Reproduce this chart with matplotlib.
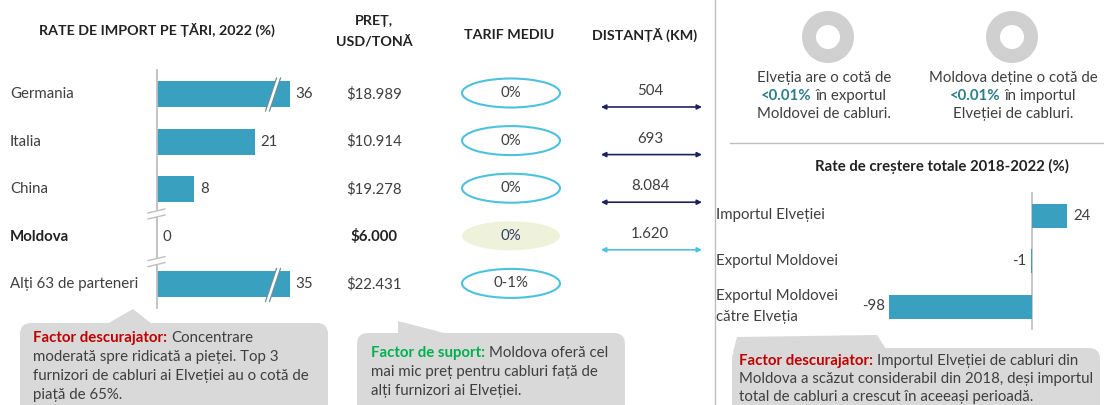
import matplotlib
matplotlib.use("Agg")
import matplotlib.pyplot as plt
import numpy as np
from matplotlib.patches import Ellipse, Wedge, FancyBboxPatch, Polygon
from matplotlib.lines import Line2D
from matplotlib.transforms import blended_transform_factory

plt.rcParams['font.family'] = ['Lato', 'DejaVu Sans']

# ---------------- data ----------------
countries = ["Germania", "Italia", "China", "Moldova", "Alți 63 de parteneri"]
import_share = [36, 21, 8, 0, 35]
prices = ["$18.989", "$10.914", "$19.278", "$6.000", "$22.431"]
tariffs = ["0%", "0%", "0%", "0%", "0-1%"]
distances = ["504", "693", "8.084", "1.620", None]

growth_labels = ["Importul Elveției", "Exportul Moldovei", "Exportul Moldovei\ncătre Elveția"]
growth_values = [24, -1, -98]

# ---------------- style ----------------
TEAL = "#3AA0BF"
TXT = "#3F3F3F"
DARK = "#222222"
GRID = "#BFBFBF"
RED = "#C00000"
GREEN = "#00B050"
BOXC = "#D9D9D9"

W, H = 1104, 405
fig = plt.figure(figsize=(W / 100, H / 100), dpi=100)
base = fig.add_axes([0, 0, 1, 1])
base.set_xlim(0, W)
base.set_ylim(H, 0)
base.axis("off")
renderer = fig.canvas.get_renderer()


def px_axes(x0, y0, x1, y1):
    return fig.add_axes([x0 / W, 1 - y1 / H, (x1 - x0) / W, (y1 - y0) / H])


def measure(text, size, weight="normal"):
    t = base.text(0, 0, text, fontsize=size, weight=weight)
    w = t.get_window_extent(renderer).width
    t.remove()
    return w


def fit(text, target, weight="normal", ref=10):
    return ref * target / measure(text, ref, weight)


FS = fit("Alți 63 de parteneri", 128)
FS_H = fit("RATE DE IMPORT PE ȚĂRI, 2022 (%)", 237, "bold")
FS_H2 = fit("Rate de creștere totale 2018-2022 (%)", 253, "bold")
FS_B = fit("furnizori de cabluri ai Elveției au o cotă de", 275)


def rich(x, y, parts, ha="left", size=None):
    size = size or FS
    sw = measure("x x", size) - measure("xx", size)
    ts, ws = [], []
    for s, kw in parts:
        t = base.text(0, y, s, fontsize=size, va="center", ha="left", **kw)
        ts.append(t)
        ws.append(t.get_window_extent(renderer).width)
    total = sum(ws) + sw * (len(ts) - 1)
    cur = x - total / 2 if ha == "center" else x
    for t, w in zip(ts, ws):
        t.set_x(cur)
        cur += w + sw


# ---------------- left bar chart ----------------
ROW0, STEP = 94, 47.6
AX_X0, PXU = 157, 4.65
AX_Y0, AX_Y1 = 70, 308
axL = px_axes(AX_X0, AX_Y0, AX_X0 + PXU * 40, AX_Y1)
axL.set_xlim(0, 40)
axL.set_ylim((AX_Y1 - ROW0) / STEP, (AX_Y0 - ROW0) / STEP)
CAP = 28.5  # broken-axis display cap
ypos = np.arange(len(countries))
shown = np.minimum(import_share, CAP)
axL.barh(ypos, shown, height=26 / STEP, color=TEAL)
for s in ["top", "right", "bottom"]:
    axL.spines[s].set_visible(False)
axL.spines["left"].set_color(GRID)
axL.spines["left"].set_linewidth(1.3)
axL.set_xticks([])
axL.set_yticks([])
axL.patch.set_visible(False)
for i, v in enumerate(import_share):
    axL.annotate(f"{v}", xy=(shown[i], i), xytext=(4, 0), textcoords="offset points",
                 va="center", ha="left", fontsize=FS, color=TXT)

transL = blended_transform_factory(base.transData, axL.transData)
for i, c in enumerate(countries):
    bold = c == "Moldova"
    base.text(10, i, c, transform=transL, va="center", ha="left", fontsize=FS,
              color=DARK if bold else TXT, weight="bold" if bold else "normal")


def row_y(i):
    return ROW0 + STEP * i


def deco_poly(ax, pts, **kw):
    p = Polygon(pts, closed=True, transform=base.transData, clip_on=False, **kw)
    ax.add_artist(p)


def deco_line(ax, xs, ys, **kw):
    ln = Line2D(xs, ys, transform=base.transData, clip_on=False, **kw)
    ax.add_artist(ln)


# bar break marks (drawn on top of the bars)
for i, v in enumerate(import_share):
    if v > CAP:
        yc = row_y(i)
        xb = AX_X0 + PXU * CAP - 20
        deco_poly(axL, [(xb - 4, yc + 17), (xb + 7, yc - 16), (xb + 11, yc - 16), (xb, yc + 17)],
                  fc="white", ec="none", zorder=5)
        deco_line(axL, [xb - 4, xb + 7], [yc + 17, yc - 16], color="#6E8E99", lw=0.9, zorder=6)
        deco_line(axL, [xb, xb + 11], [yc + 17, yc - 16], color="#6E8E99", lw=0.9, zorder=6)

# axis break marks
for yb in [(row_y(2) + row_y(3)) / 2 + 1, (row_y(3) + row_y(4)) / 2 + 1]:
    deco_poly(axL, [(148, yb - 1), (165, yb - 5), (165, yb + 1), (148, yb + 5)],
              fc="white", ec="none", zorder=5)
    deco_line(axL, [148, 165], [yb - 1, yb - 5], color=GRID, lw=1, zorder=6)
    deco_line(axL, [148, 165], [yb + 5, yb + 1], color=GRID, lw=1, zorder=6)

# headers
base.text(157, 30, "RATE DE IMPORT PE ȚĂRI, 2022 (%)", ha="center", va="center",
          fontsize=FS_H, weight="bold", color=DARK)
base.text(374, 21, "PREȚ,", ha="center", va="center", fontsize=FS_H, weight="bold", color=DARK)
base.text(374, 41, "USD/TONĂ", ha="center", va="center", fontsize=FS_H, weight="bold", color=DARK)
base.text(509, 35, "TARIF MEDIU", ha="center", va="center", fontsize=FS_H, weight="bold", color=DARK)
base.text(645, 35, "DISTANȚĂ (KM)", ha="center", va="center", fontsize=FS_H, weight="bold", color=DARK)

# price / tariff / distance columns
for i in range(len(countries)):
    y = row_y(i)
    is_md = countries[i] == "Moldova"
    base.text(374, y, prices[i], ha="center", va="center", fontsize=FS,
              weight="bold" if is_md else "normal", color=DARK if is_md else TXT)
    if is_md:
        e = Ellipse((511, y - 1), 98, 29, fc="#EEF2DA", ec="none")
    else:
        e = Ellipse((511, y - 1), 98, 29, fc="white", ec="#4DC2DE", lw=1.5)
    base.add_patch(e)
    base.text(511, y - 1, tariffs[i], ha="center", va="center", fontsize=FS,
              color="#33406B" if is_md else TXT)
    if distances[i] is not None:
        base.text(650, y - 3, distances[i], ha="center", va="center", fontsize=FS, color=TXT)
        col = "#4DC2DE" if is_md else "#1F215E"
        base.annotate("", xy=(702, y + 13), xytext=(601, y + 13),
                      arrowprops=dict(arrowstyle="<|-|>", color=col, lw=1.2,
                                      mutation_scale=7, shrinkA=0, shrinkB=0))

# ---------------- right side ----------------
base.plot([715, 715], [0, H], color=GRID, lw=1)
base.plot([730, W], [143, 143], color=GRID, lw=1)

for cx in [828, 1012]:
    base.add_patch(Wedge((cx, 37), 26, 0, 360, width=14, fc="#D0D0D0", ec="none"))

TEALTXT = "#2E7D8C"
base.text(824, 78, "Elveția are o cotă de", ha="center", va="center", fontsize=FS, color=TXT)
rich(824, 96, [("<0.01%", dict(color=TEALTXT, weight="bold")), ("în exportul", dict(color=TXT))], ha="center")
base.text(824, 114, "Moldovei de cabluri.", ha="center", va="center", fontsize=FS, color=TXT)
base.text(1013, 78, "Moldova deține o cotă de", ha="center", va="center", fontsize=FS, color=TXT)
rich(1013, 96, [("<0.01%", dict(color=TEALTXT, weight="bold")), ("în importul", dict(color=TXT))], ha="center")
base.text(1013, 114, "Elveției de cabluri.", ha="center", va="center", fontsize=FS, color=TXT)

base.text(942, 166, "Rate de creștere totale 2018-2022 (%)", ha="center", va="center",
          fontsize=FS_H2, weight="bold", color=DARK)

R0, RSTEP, ZX, RPXU = 215.5, 45.5, 1032, 1.459
RY0, RY1 = 192, 330
axR = px_axes(ZX - 110 * RPXU, RY0, ZX + 45 * RPXU, RY1)
axR.set_xlim(-110, 45)
axR.set_ylim((RY1 - R0) / RSTEP, (RY0 - R0) / RSTEP)
axR.axvline(0, color=GRID, lw=1.2, zorder=0.5)
axR.barh(np.arange(len(growth_values)), growth_values, height=24 / RSTEP, color=TEAL, zorder=2)
axR.axis("off")
for i, v in enumerate(growth_values):
    if v >= 0:
        axR.annotate(f"{v}", xy=(v, i), xytext=(4.3, 0), textcoords="offset points",
                     va="center", ha="left", fontsize=FS, color=TXT)
    else:
        axR.annotate(f"{v}", xy=(v, i), xytext=(-3, 0), textcoords="offset points",
                     va="center", ha="right", fontsize=FS, color=TXT)
transR = blended_transform_factory(base.transData, axR.transData)
for i, lab in enumerate(growth_labels):
    base.text(716, i, lab, transform=transR, va="center", ha="left", fontsize=FS,
              color=TXT, linespacing=1.55)

# ---------------- callout boxes ----------------
def callout(x0, y0, x1, pointer, lines, lx, ly0, dy):
    base.add_patch(FancyBboxPatch((x0, y0), x1 - x0, 440 - y0,
                                  boxstyle="round,pad=0,rounding_size=11",
                                  fc=BOXC, ec="none", zorder=1))
    base.add_patch(Polygon(pointer, closed=True, fc=BOXC, ec="none", zorder=1))
    for k, ln in enumerate(lines):
        if isinstance(ln, list):
            rich(lx, ly0 + k * dy, ln, size=FS_B)
        else:
            base.text(lx, ly0 + k * dy, ln, va="center", ha="left", fontsize=FS_B, color=TXT)


callout(20, 323, 328, [(107, 324), (133, 309), (152, 324)],
        [[("Factor descurajator:", dict(color=RED, weight="bold")), ("Concentrare", dict(color=TXT))],
         "moderată spre ridicată a pieței. Top 3",
         "furnizori de cabluri ai Elveției au o cotă de",
         "piață de 65%."], 33, 338, 19)

callout(357, 333, 625, [(398, 334), (398, 321), (448, 334)],
        [[("Factor de suport:", dict(color=GREEN, weight="bold")), ("Moldova oferă cel", dict(color=TXT))],
         "mai mic preț pentru cabluri față de",
         "alți furnizori ai Elveției."], 371, 353, 19)

callout(732, 348, 1100, [(733, 352), (737, 337), (877, 335), (886, 349)],
        [[("Factor descurajator:", dict(color=RED, weight="bold")),
          ("Importul Elveției de cabluri din", dict(color=TXT))],
         "Moldova a scăzut considerabil din 2018, deși importul",
         "total de cabluri a crescut în aceeași perioadă."], 739, 361, 18)

fig.savefig("out.png", dpi=100)
